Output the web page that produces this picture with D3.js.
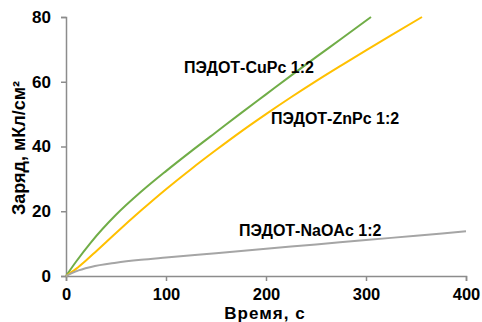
<!DOCTYPE html>
<html>
<head>
<meta charset="utf-8">
<script src="https://cdn.jsdelivr.net/npm/d3@7"></script>
<style>
  body { margin: 0; background: #fff; }
  text { font-family: "Liberation Sans", Arial, sans-serif; font-weight: bold; fill: #000; }
</style>
</head>
<body>
<div id="chart"></div>
<script>
// time, s  /  charge, uC/cm2
var xTicks = [0, 100, 200, 300, 400];
var yTicks = [0, 20, 40, 60, 80];

var cupcT = [0, 10, 25, 50, 75, 100, 125, 150, 175, 200, 225, 250, 275, 305];
var cupcQ = [0, 4.4, 10.4, 18.9, 26, 32.4, 38.5, 44.4, 50.3, 56.1, 61.9, 67.6, 73.2, 80];

var znpcT = [0, 10, 20, 30, 50, 75, 100, 125, 150, 175, 200, 225, 250, 275, 300, 325, 356];
var znpcQ = [0, 2.2, 4.8, 7.6, 13.3, 20.2, 26.8, 33, 38.9, 44.6, 50, 55.2, 60.2, 65, 69.7, 74.3, 80];

var naoacT = [0, 10, 25, 50, 75, 100, 150, 200, 250, 300, 350, 400];
var naoacQ = [0, 1.45, 2.8, 4.1, 5, 5.7, 7.05, 8.4, 9.75, 11.1, 12.45, 13.8];

var labels = ["ПЭДОТ-CuPc 1:2", "ПЭДОТ-ZnPc 1:2", "ПЭДОТ-NaOAc 1:2"];
var colors = ["#70ad47", "#ffc000", "#a5a5a5"];

var W = 482, H = 322;
var svg = d3.select('#chart').append('svg')
    .attr('width', W).attr('height', H);

var x = d3.scaleLinear().domain([0, 400]).range([66, 466]);
var y = d3.scaleLinear().domain([0, 80]).range([276, 17]);

var series = [
    { t: cupcT, q: cupcQ },
    { t: znpcT, q: znpcQ },
    { t: naoacT, q: naoacQ }
];

var line = d3.line()
    .x(function (d) { return x(d[0]); })
    .y(function (d) { return y(d[1]); })
    .curve(d3.curveMonotoneX);

// axes
var xAxis = svg.append('g')
    .attr('transform', 'translate(0,' + y(0) + ')')
    .call(d3.axisBottom(x).tickValues(xTicks).tickSize(5).tickPadding(7));
var yAxis = svg.append('g')
    .attr('transform', 'translate(' + x(0) + ',0)')
    .call(d3.axisLeft(y).tickValues(yTicks).tickSize(5).tickPadding(10));

[xAxis, yAxis].forEach(function (a) {
    a.select('.domain').attr('stroke', '#8c8c8c').attr('stroke-width', 1.5);
    a.selectAll('.tick line').attr('stroke', '#8c8c8c').attr('stroke-width', 1.5);
    a.selectAll('.tick text').style('font-size', '17px').attr('fill', '#000')
        .style('font-family', '"Liberation Sans", Arial, sans-serif').style('font-weight', 'bold');
});
xAxis.selectAll('.tick text').style('font-size', '16.5px');

svg.selectAll('.curve')
    .data(series)
    .enter().append('path')
    .attr('class', 'curve')
    .attr('fill', 'none')
    .attr('stroke', function (d, i) { return colors[i]; })
    .attr('stroke-width', 2)
    .attr('d', function (d) {
        return line(d.t.map(function (t, i) { return [t, d.q[i]]; }));
    });

// series labels (left edge, baseline)
var labelPos = [[184, 73], [271, 124], [239, 236]];
svg.selectAll('.lbl')
    .data(labels)
    .enter().append('text')
    .attr('class', 'lbl')
    .attr('x', function (d, i) { return labelPos[i][0]; })
    .attr('y', function (d, i) { return labelPos[i][1]; })
    .style('font-size', '16px')
    .text(function (d) { return d; });

// axis titles
svg.append('text')
    .attr('x', 265).attr('y', 318.5)
    .attr('text-anchor', 'middle')
    .style('font-size', '17px')
    .style('letter-spacing', '1px')
    .text('Время, с');

svg.append('text')
    .attr('transform', 'translate(25,148) rotate(-90)')
    .attr('text-anchor', 'middle')
    .style('font-size', '18px')
    .text('Заряд, мКл/см²');
</script>
</body>
</html>
